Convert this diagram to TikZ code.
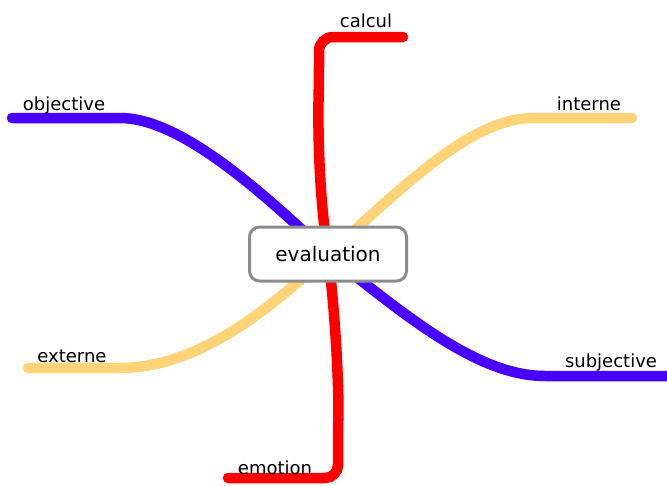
\documentclass[tikz,border=0pt]{standalone}
\usepackage{fontspec}
\setmainfont{DejaVu Sans}
\definecolor{bblue}{RGB}{72,0,255}
\definecolor{rred}{RGB}{255,0,0}
\definecolor{yyel}{RGB}{255,212,120}
\definecolor{bgray}{RGB}{140,140,140}
\begin{document}
\begin{tikzpicture}[x=1pt,y=-1pt,
  branch/.style={line width=10.5pt,line cap=round},
  lbl/.style={font=\fontsize{18}{20}\selectfont,inner sep=0pt,anchor=base},
  centerbox/.style={draw=bgray,line width=3pt,rounded corners=10pt,fill=white,minimum width=157pt,minimum height=54pt,font=\fontsize{20}{22}\selectfont}]
\useasboundingbox (0,0) rectangle (667,485);
\coordinate (c) at (328,254);
\coordinate (objE) at (12,118);
\coordinate (subE) at (680,376);
\coordinate (intE) at (632,118);
\coordinate (extE) at (28,368);
\coordinate (calE) at (403,37);
\coordinate (emoE) at (228,478);
% branches
\draw[branch,yyel] (c) .. controls (400,190) and (470,118) .. (533,118) -- (intE);
\draw[branch,yyel] (c) .. controls (260,320) and (190,368) .. (120,368) -- (extE);
\draw[branch,bblue] (c) .. controls (260,190) and (180,118) .. (120,118) -- (objE);
\draw[branch,bblue] (c) .. controls (410,320) and (480,376) .. (545,376) -- (subE);
\draw[branch,rred,rounded corners=14pt] (c) .. controls (318,190) and (318,120) .. (319,80) -- (319,37) -- (calE);
\draw[branch,rred,rounded corners=13pt] (c) .. controls (336,320) and (339,390) .. (338,430) -- (338,478) -- (emoE);
% center
\node[centerbox] (eval) at (c) {evaluation};
% labels
\node[lbl] (lobj) at (64,110) {objective};
\node[lbl] (lcal) at (366,27) {calcul};
\node[lbl] (lint) at (589,110) {interne};
\node[lbl] (lext) at (72,362) {externe};
\node[lbl] (lsub) at (611,367) {subjective};
\node[lbl] (lemo) at (275,474) {emotion};
\end{tikzpicture}
\end{document}
